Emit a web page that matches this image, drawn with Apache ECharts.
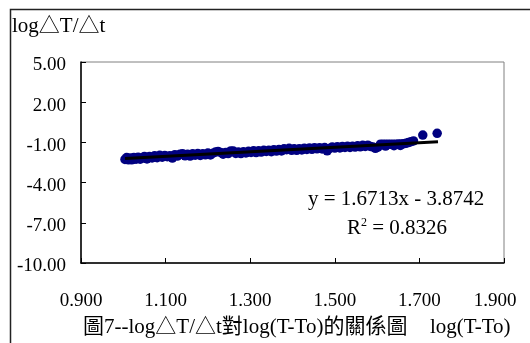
<!DOCTYPE html>
<html>
<head>
<meta charset="utf-8">
<script src="https://cdn.jsdelivr.net/npm/echarts@6/dist/echarts.min.js"></script>
<style>
  html, body { margin: 0; padding: 0; background: #fff; }
  #chart { width: 530px; height: 343px; }
</style>
</head>
<body>
<div id="chart"></div>
<script>
// measured points: log(T-To) vs log(dT/dt)
const logDT = [
  1.004, 1.008, 1.012, 1.016, 1.020, 1.025, 1.030, 1.035, 1.040, 1.045,
  1.050, 1.056, 1.062, 1.068, 1.074, 1.080, 1.086, 1.092, 1.098, 1.104,
  1.110, 1.116, 1.122, 1.128, 1.134, 1.140, 1.146, 1.152, 1.158, 1.164,
  1.170, 1.176, 1.182, 1.188, 1.194, 1.200, 1.206, 1.212, 1.218, 1.224,
  1.230, 1.236, 1.242, 1.248, 1.254, 1.260, 1.266, 1.272, 1.278, 1.284,
  1.290, 1.296, 1.302, 1.308, 1.314, 1.320, 1.326, 1.332, 1.338, 1.344,
  1.350, 1.356, 1.362, 1.368, 1.374, 1.380, 1.386, 1.392, 1.398, 1.404,
  1.410, 1.416, 1.422, 1.428, 1.434, 1.440, 1.446, 1.452, 1.458, 1.464,
  1.470, 1.476, 1.482, 1.488, 1.494, 1.500, 1.506, 1.512, 1.518, 1.524,
  1.530, 1.536, 1.542, 1.548, 1.554, 1.560, 1.566, 1.572, 1.578, 1.584,
  1.590, 1.596, 1.602, 1.608, 1.614, 1.620, 1.626, 1.632, 1.638, 1.644,
  1.650, 1.656, 1.662, 1.668, 1.674, 1.680, 1.686, 1.620, 1.640, 1.655,
  1.708, 1.742
];
const logRate = [
  -2.27, -2.13, -2.30, -2.17, -2.30, -2.12, -2.25, -2.10, -2.25, -2.16,
  -2.05, -2.23, -2.05, -2.16, -2.00, -2.14, -1.96, -2.10, -1.97, -2.07,
  -1.99, -2.17, -1.92, -2.02, -1.88, -1.84, -2.00, -1.88, -2.02, -1.85,
  -1.95, -1.83, -1.97, -1.84, -1.93, -1.80, -1.94, -1.81, -1.72, -1.67,
  -1.75, -1.88, -1.75, -1.83, -1.64, -1.65, -1.82, -1.71, -1.83, -1.70,
  -1.79, -1.66, -1.75, -1.63, -1.76, -1.63, -1.72, -1.59, -1.68, -1.58,
  -1.69, -1.54, -1.65, -1.53, -1.64, -1.48, -1.54, -1.44, -1.59, -1.48,
  -1.59, -1.47, -1.56, -1.43, -1.53, -1.42, -1.52, -1.39, -1.48, -1.39,
  -1.49, -1.38, -1.63, -1.45, -1.34, -1.42, -1.33, -1.41, -1.30, -1.38,
  -1.29, -1.38, -1.28, -1.35, -1.25, -1.33, -1.22, -1.30, -1.21, -1.30,
  -1.34, -1.44, -1.36, -1.13, -1.13, -1.13, -1.14, -1.13, -1.13, -1.13,
  -1.12, -1.12, -1.11, -1.07, -1.01, -0.95, -0.89, -1.27, -1.25, -1.23,
  -0.45, -0.32
];

// linear trendline y = 1.6713x - 3.8742 over the data range
const trendX = [1.004, 1.744];
const trendY = [-2.196, -0.959];

const xTicks = [0.9, 1.9, 0.2];   // min, max, step
const yTicks = [-10, 5, 3];

const serif = "'Liberation Serif', 'Times New Roman', 'Noto Sans CJK TC', serif";
const chart = echarts.init(document.getElementById("chart"), null, { renderer: "canvas" });

const option = {
  backgroundColor: "#ffffff",
  animation: false,
  grid: { left: 81, top: 62, right: 26, bottom: 80, show: true, borderColor: "#808080", borderWidth: 1 },
  xAxis: {
    type: "value",
    min: xTicks[0], max: xTicks[1], interval: xTicks[2],
    axisLine: { show: true, onZero: false, lineStyle: { color: "#000", width: 1.5 } },
    axisTick: { show: true, inside: true, length: 5, lineStyle: { color: "#000" } },
    splitLine: { show: false },
    axisLabel: {
      color: "#000", fontFamily: serif, fontSize: 19, margin: 29,
      // last label is pulled in a bit so it stays inside the frame
      formatter: v => v >= xTicks[1] - 1e-9 ? "{m|" + v.toFixed(3) + "}" : v.toFixed(3),
      rich: { m: { fontFamily: serif, fontSize: 19, color: "#000", padding: [0, 18, 0, 0] } }
    }
  },
  yAxis: {
    type: "value",
    min: yTicks[0], max: yTicks[1], interval: yTicks[2],
    axisLine: { show: true, onZero: false, lineStyle: { color: "#000", width: 1.5 } },
    axisTick: { show: true, inside: true, length: 5, lineStyle: { color: "#000" } },
    splitLine: { show: false },
    axisLabel: {
      color: "#000", fontFamily: serif, fontSize: 19, margin: 15,
      verticalAlign: "top", lineHeight: 7,
      formatter: v => v.toFixed(2)
    }
  },
  series: [
    {
      type: "scatter",
      data: logDT.map((x, i) => [x, logRate[i]]),
      symbol: "circle",
      symbolSize: 9.5,
      itemStyle: { color: "#000080", opacity: 1 }
    },
    {
      type: "line",
      data: trendX.map((x, i) => [x, trendY[i]]),
      symbol: "none",
      lineStyle: { color: "#000", width: 3 },
      z: 3
    }
  ],
  graphic: [
    {
      type: "rect", left: 8, top: 7,
      shape: { width: 540, height: 360 },
      style: { fill: "none", stroke: "#222", lineWidth: 1.5 },
      silent: true
    },
    {
      type: "text", left: 12, top: 16,
      style: { text: "log△T/△t", font: "21px " + serif, fill: "#000" }
    },
    {
      type: "text", left: 308, top: 189,
      style: { text: "y = 1.6713x - 3.8742", font: "21px " + serif, fill: "#000" }
    },
    {
      type: "text", left: 347, top: 217,
      style: {
        text: "{a|R}{s|2}{a| = 0.8326}",
        rich: {
          a: { font: "21px " + serif, fill: "#000", verticalAlign: "bottom" },
          s: { font: "12px " + serif, fill: "#000", verticalAlign: "top", padding: [0, 0, 10, 0] }
        }
      }
    },
    {
      type: "text", left: 83, top: 317,
      style: { text: "圖7--log△T/△t對log(T-To)的關係圖", font: "21px " + serif, fill: "#000" }
    },
    {
      type: "text", left: 430, top: 317,
      style: { text: "log(T-To)", font: "21px " + serif, fill: "#000" }
    }
  ]
};

chart.setOption(option);
</script>
</body>
</html>
